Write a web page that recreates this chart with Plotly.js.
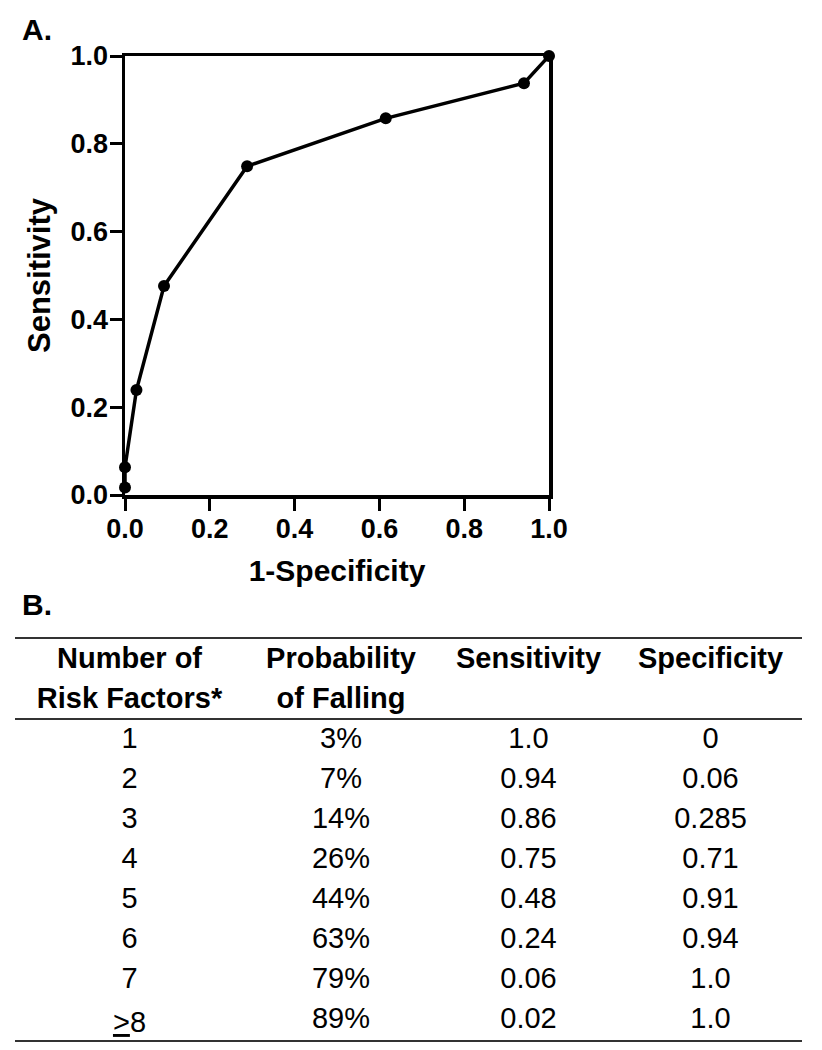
<!DOCTYPE html>
<html>
<head>
<meta charset="utf-8">
<script src="https://cdn.plot.ly/plotly-3.0.1.min.js"></script>
<style>html,body{margin:0;padding:0;background:#fff;}#chart{width:822px;height:1050px;}</style>
</head>
<body>
<div id="chart"></div>
<script>
// ROC curve points
const oneMinusSpecificity = [0.0, 0.0, 0.027, 0.092, 0.288, 0.615, 0.941, 1.0];
const sensitivityPts      = [0.017, 0.063, 0.239, 0.476, 0.749, 0.858, 0.938, 1.0];

const xTicks = [0.0, 0.2, 0.4, 0.6, 0.8, 1.0];
const yTicks = [0.0, 0.2, 0.4, 0.6, 0.8, 1.0];

// Table B (header given as two rows per column)
const tableHeaders = [["Number of", "Risk Factors*"], ["Probability", "of Falling"], ["Sensitivity", ""], ["Specificity", ""]];
const riskFactors = ["1", "2", "3", "4", "5", "6", "7", "<u>&gt;</u>8"];
const probFalling = ["3%", "7%", "14%", "26%", "44%", "63%", "79%", "89%"];
const tableSensitivity = ["1.0", "0.94", "0.86", "0.75", "0.48", "0.24", "0.06", "0.02"];
const tableSpecificity = ["0", "0.06", "0.285", "0.71", "0.91", "0.94", "1.0", "1.0"];

const W = 822, H = 1050;
const FONT = "Liberation Sans, Arial, sans-serif";
const px = v => v / W;
const py = v => 1 - v / H;

const roc = {
  type: 'scatter', mode: 'lines+markers',
  x: oneMinusSpecificity, y: sensitivityPts,
  line: {color: '#000', width: 3.5},
  marker: {color: '#000', size: 12},
  cliponaxis: false, showlegend: false, hoverinfo: 'none'
};

const table = {
  type: 'table',
  domain: {x: [px(15), px(802)], y: [py(1041), py(638)]},
  columnwidth: [229, 194, 181, 183],
  header: {
    values: tableHeaders,
    align: 'center',
    height: 40,
    line: {color: 'rgba(0,0,0,0)', width: 0},
    fill: {color: 'rgba(0,0,0,0)'},
    font: {family: FONT, size: 29, color: '#000', weight: 'bold'}
  },
  cells: {
    values: [riskFactors, probFalling, tableSensitivity, tableSpecificity],
    align: 'center',
    height: 40,
    line: {color: 'rgba(0,0,0,0)', width: 0},
    fill: {color: 'rgba(0,0,0,0)'},
    font: {family: FONT, size: 29, color: '#000'}
  }
};

const hline = (y) => ({
  type: 'line', xref: 'paper', yref: 'paper',
  x0: px(15), x1: px(802), y0: py(y), y1: py(y),
  line: {color: '#333', width: 2}
});

const layout = {
  width: W, height: H,
  paper_bgcolor: '#fff', plot_bgcolor: '#fff',
  margin: {l: 0, r: 0, t: 0, b: 0, pad: 0},
  showlegend: false,
  font: {family: FONT, color: '#000'},
  xaxis: {
    domain: [px(125), px(549)],
    range: [0, 1], tickvals: xTicks, ticktext: xTicks.map(v => v.toFixed(1)),
    showgrid: false, zeroline: false,
    showline: true, linecolor: '#000', linewidth: 3.5, mirror: true,
    ticks: 'outside', ticklen: 12, tickwidth: 3, tickcolor: '#000',
    ticklabelstandoff: -5,
    tickfont: {family: FONT, size: 27, color: '#000', weight: 'bold'},
    title: {text: '1-Specificity', standoff: 18,
      font: {family: FONT, size: 30, color: '#000', weight: 'bold'}},
    automargin: false, fixedrange: true
  },
  yaxis: {
    domain: [py(495), py(56)],
    range: [0, 1], tickvals: yTicks, ticktext: yTicks.map(v => v.toFixed(1)),
    showgrid: false, zeroline: false,
    showline: true, linecolor: '#000', linewidth: 3.5, mirror: true,
    ticks: 'outside', ticklen: 12, tickwidth: 3, tickcolor: '#000',
    ticklabelstandoff: -4,
    tickfont: {family: FONT, size: 27, color: '#000', weight: 'bold'},
    title: {text: 'Sensitivity', standoff: 11,
      font: {family: FONT, size: 31, color: '#000', weight: 'bold'}},
    automargin: false, fixedrange: true
  },
  shapes: [hline(638), hline(719), hline(1041)],
  annotations: [
    {text: 'A.', xref: 'paper', yref: 'paper', x: px(20), y: py(29),
     xanchor: 'left', yanchor: 'middle', showarrow: false,
     font: {family: FONT, size: 30, color: '#000', weight: 'bold'}},
    {text: 'B.', xref: 'paper', yref: 'paper', x: px(20), y: py(604),
     xanchor: 'left', yanchor: 'middle', showarrow: false,
     font: {family: FONT, size: 30, color: '#000', weight: 'bold'}}
  ]
};

Plotly.newPlot('chart', [roc, table], layout, {staticPlot: true, displayModeBar: false});
</script>
</body>
</html>
